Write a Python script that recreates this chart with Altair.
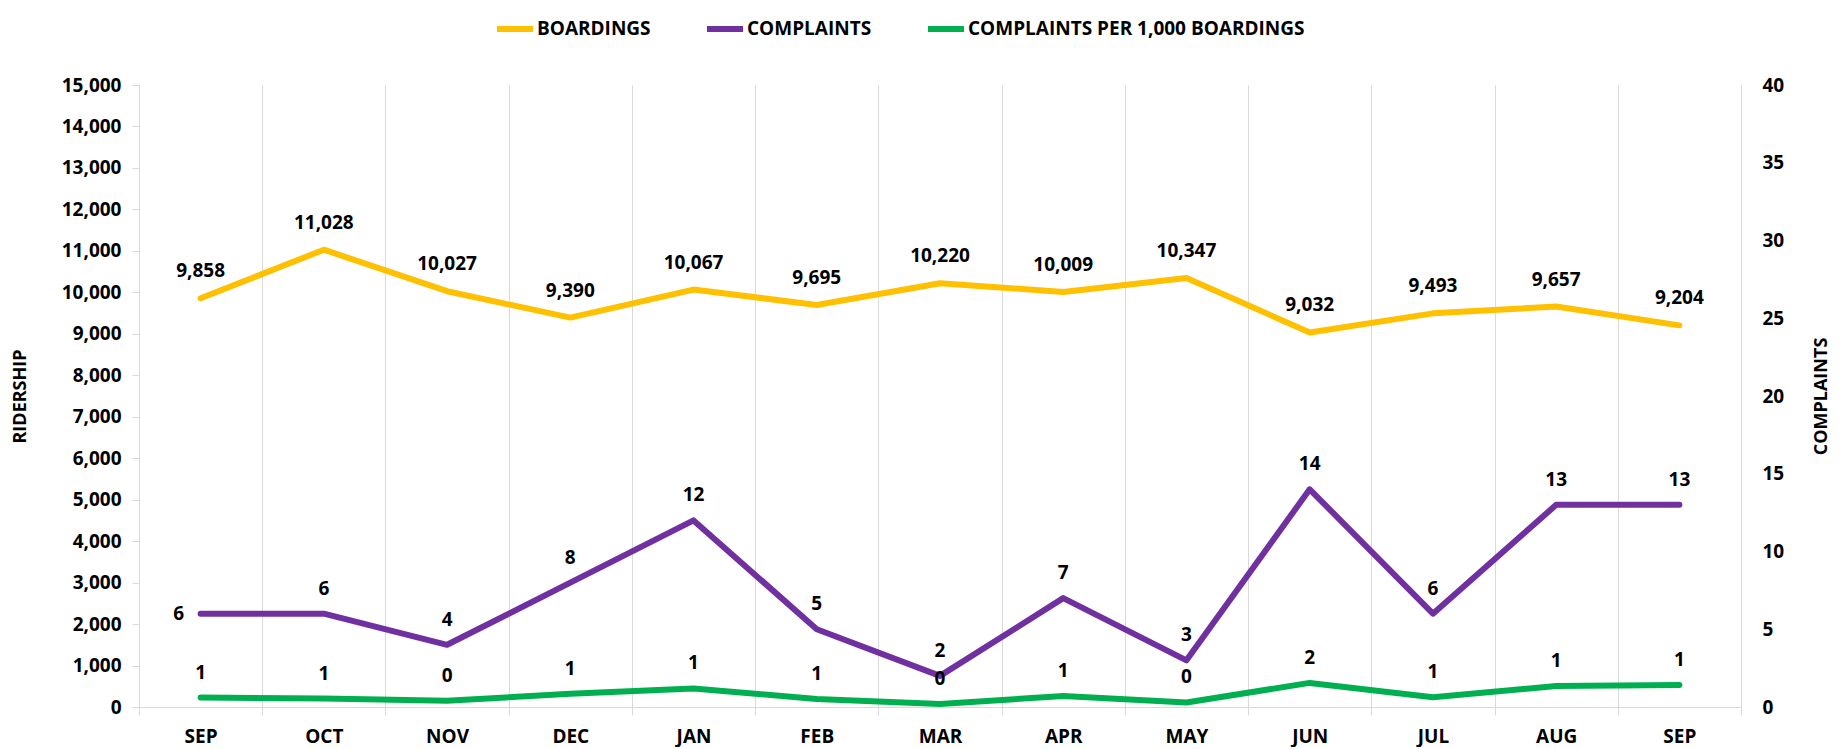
import altair as alt
import pandas as pd

months = ["SEP", "OCT", "NOV", "DEC", "JAN", "FEB", "MAR", "APR", "MAY", "JUN", "JUL", "AUG", "SEP"]
boardings = [9858, 11028, 10027, 9390, 10067, 9695, 10220, 10009, 10347, 9032, 9493, 9657, 9204]
complaints = [6, 6, 4, 8, 12, 5, 2, 7, 3, 14, 6, 13, 13]
per_1000 = [0.61, 0.54, 0.40, 0.85, 1.19, 0.52, 0.20, 0.70, 0.29, 1.55, 0.63, 1.35, 1.41]
series_names = ["BOARDINGS", "COMPLAINTS", "COMPLAINTS PER 1,000 BOARDINGS"]
series_colors = ["#FFC000", "#7030A0", "#00B050"]
left_ticks = list(range(0, 15001, 1000))
right_ticks = list(range(0, 41, 5))

FONT = "Open Sans"
GRID = "#D9D9D9"

n = len(months)
df_b = pd.DataFrame({"idx": list(range(n)), "value": boardings, "series": series_names[0]})
df_c = pd.concat([
    pd.DataFrame({"idx": list(range(n)), "value": complaints, "series": series_names[1]}),
    pd.DataFrame({"idx": list(range(n)), "value": per_1000, "series": series_names[2]}),
], ignore_index=True)

month_js = "[" + ",".join("'%s'" % m for m in months) + "]"

x_enc = alt.X(
    "idx:O",
    scale=alt.Scale(type="band", paddingInner=0, paddingOuter=0),
    bandPosition=0.5,
    axis=alt.Axis(
        title=None, labelExpr=month_js + "[datum.value]", tickBand="extent",
        grid=True, gridColor=GRID, gridWidth=1, domainColor=GRID, tickColor=GRID,
        tickSize=8, labelPadding=12, labelAngle=0, labelFont=FONT, labelFontSize=19,
        labelFontWeight="bold", labelColor="black",
    ),
)

color_enc = alt.Color(
    "series:N",
    scale=alt.Scale(domain=series_names, range=series_colors),
    legend=alt.Legend(
        title=None, orient="none", legendX=355, legendY=-77, direction="horizontal",
        symbolType="stroke", symbolStrokeWidth=6, symbolSize=1296, labelOffset=1,
        labelFont=FONT, labelFontSize=19, labelFontWeight="bold", labelColor="black",
        columnPadding=44, labelLimit=0,
    ),
)

y_left = alt.Y(
    "value:Q",
    scale=alt.Scale(domain=[0, 15000], nice=False, zero=True),
    axis=alt.Axis(
        orient="left", values=left_ticks, labelExpr="format(datum.value, ',')", grid=False,
        domainColor=GRID, tickColor=GRID, tickSize=7, labelPadding=11, labelFont=FONT,
        labelFontSize=19, labelFontWeight="bold", labelColor="black", title="RIDERSHIP",
        titleFont=FONT, titleFontSize=18, titleFontWeight="bold", titleColor="black",
        titleAngle=270, titleX=-119, titleY=311, titleBaseline="middle", titleAlign="center",
    ),
)

y_right = alt.Y(
    "value:Q",
    scale=alt.Scale(domain=[0, 40], nice=False, zero=True),
    axis=alt.Axis(
        orient="right", values=right_ticks, grid=False, domainColor=GRID, ticks=False,
        tickSize=0, labelPadding=21, labelFont=FONT, labelFontSize=19,
        labelFontWeight="bold", labelColor="black", title="COMPLAINTS", titleFont=FONT,
        titleFontSize=18, titleFontWeight="bold", titleColor="black", titleAngle=270,
        titleX=80, titleY=311, titleBaseline="middle", titleAlign="center",
    ),
)

text_style = dict(font=FONT, fontSize=19, fontWeight="bold", color="black", baseline="middle")

base_b = alt.Chart(df_b)
line_b = base_b.mark_line(strokeWidth=6, strokeCap="round", strokeJoin="round").encode(
    x=x_enc, y=y_left, color=color_enc
)
text_b = base_b.mark_text(dy=-27, **text_style).encode(
    x=x_enc, y=y_left, text=alt.Text("value:Q", format=",")
)
left = alt.layer(line_b, text_b)

base_c = alt.Chart(df_c)
line_c = base_c.mark_line(strokeWidth=6, strokeCap="round", strokeJoin="round").encode(
    x=x_enc, y=y_right, color=color_enc
)
text_c_main = base_c.transform_filter(
    "!(datum.series == 'COMPLAINTS' && datum.idx == 0)"
).mark_text(dy=-25, **text_style).encode(
    x=x_enc, y=y_right, text=alt.Text("value:Q", format=".0f")
)
text_c_first = base_c.transform_filter(
    "datum.series == 'COMPLAINTS' && datum.idx == 0"
).mark_text(dx=-22, **text_style).encode(
    x=x_enc, y=y_right, text=alt.Text("value:Q", format=".0f")
)
right = alt.layer(line_c, text_c_main, text_c_first)

chart = alt.layer(left, right).resolve_scale(y="independent").properties(
    width=1602,
    height=622,
    padding={"left": 131, "top": 77, "right": 90, "bottom": 40},
    autosize=alt.AutoSizeParams(type="none"),
    background="white",
).configure_view(stroke=None)

chart.save("out.html", embed_options={"renderer": "svg", "actions": False})
